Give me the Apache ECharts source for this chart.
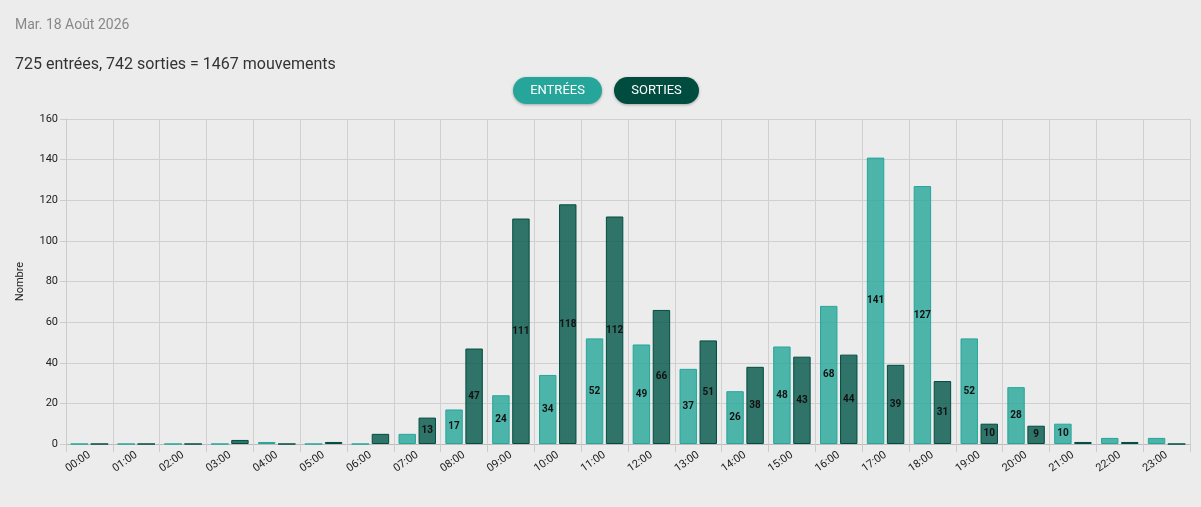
<!DOCTYPE html>
<html>
<head>
<meta charset="utf-8">
<script src="https://cdn.jsdelivr.net/npm/echarts@6/dist/echarts.min.js"></script>
<style>
  html, body { margin: 0; padding: 0; background: #ececec; }
  #chart { width: 1201px; height: 507px; }
</style>
</head>
<body>
<div id="chart"></div>
<script>
var hours = ['00:00','01:00','02:00','03:00','04:00','05:00','06:00','07:00','08:00','09:00','10:00','11:00',
  '12:00','13:00','14:00','15:00','16:00','17:00','18:00','19:00','20:00','21:00','22:00','23:00'];
var entrees = [0,0,0,0,1,0,0,5,17,24,34,52,49,37,26,48,68,141,127,52,28,10,3,3];
var sorties = [0,0,0,2,0,1,5,13,47,111,118,112,66,51,38,43,44,39,31,10,9,1,1,0];

var chart = echarts.init(document.getElementById('chart'));

function barLabel(p) {
  return p.value >= 9 ? p.value : '';
}

chart.setOption({
  backgroundColor: '#ececec',
  textStyle: { fontFamily: 'Roboto, sans-serif' },
  title: [
    { text: 'Mar. 18 Août 2026', left: 10, top: 13, textStyle: { fontSize: 14, fontWeight: 'normal', color: '#888' } },
    { text: '725 entrées, 742 sorties = 1467 mouvements', left: 10, top: 52, textStyle: { fontSize: 16, fontWeight: 'normal', color: '#333' } }
  ],
  graphic: [
    { type: 'group', left: 513, top: 77, children: [
      { type: 'rect', shape: { x: 0, y: 0, width: 89, height: 27, r: 14 }, style: { fill: '#26a69a', shadowBlur: 3, shadowColor: 'rgba(0,0,0,0.3)', shadowOffsetY: 1 } },
      { type: 'text', style: { x: 44.5, y: 13.5, text: 'ENTRÉES', fill: '#fff', font: '13px Roboto', align: 'center', verticalAlign: 'middle' } }
    ]},
    { type: 'group', left: 614, top: 77, children: [
      { type: 'rect', shape: { x: 0, y: 0, width: 85, height: 27, r: 14 }, style: { fill: '#004d40', shadowBlur: 3, shadowColor: 'rgba(0,0,0,0.3)', shadowOffsetY: 1 } },
      { type: 'text', style: { x: 42.5, y: 13.5, text: 'SORTIES', fill: '#fff', font: '13px Roboto', align: 'center', verticalAlign: 'middle' } }
    ]}
  ],
  grid: { left: 66, right: 11, top: 119, bottom: 63 },
  xAxis: {
    type: 'category',
    data: hours,
    axisLine: { lineStyle: { color: '#bbb' } },
    axisTick: { show: true, length: 8, lineStyle: { color: '#ccc' } },
    splitLine: { show: true, lineStyle: { color: '#d0d0d0' } },
    axisLabel: { rotate: 35, color: '#222', fontSize: 11, margin: 10, interval: 0 }
  },
  yAxis: {
    type: 'value',
    min: 0, max: 160, interval: 20,
    name: 'Nombre',
    nameLocation: 'middle',
    nameGap: 40,
    nameTextStyle: { fontSize: 11, color: '#222' },
    axisLine: { show: true, lineStyle: { color: '#ccc' } },
    axisTick: { show: true, length: 6, lineStyle: { color: '#ccc' } },
    splitLine: { lineStyle: { color: '#d0d0d0' } },
    axisLabel: { color: '#222', fontSize: 11 }
  },
  series: [
    {
      name: 'Entrées', type: 'bar', data: entrees,
      barGap: '15%', barCategoryGap: '20%',
      itemStyle: { color: 'rgba(38,166,154,0.8)', borderColor: 'rgba(38,166,154,1)', borderWidth: 1 },
      label: { show: true, position: 'inside', formatter: barLabel, color: '#111', fontSize: 10, fontWeight: 'bold' }
    },
    {
      name: 'Sorties', type: 'bar', data: sorties,
      itemStyle: { color: 'rgba(0,85,72,0.8)', borderColor: 'rgba(0,77,64,1)', borderWidth: 1 },
      label: { show: true, position: 'inside', formatter: barLabel, color: '#111', fontSize: 10, fontWeight: 'bold' }
    }
  ]
});
</script>
</body>
</html>
